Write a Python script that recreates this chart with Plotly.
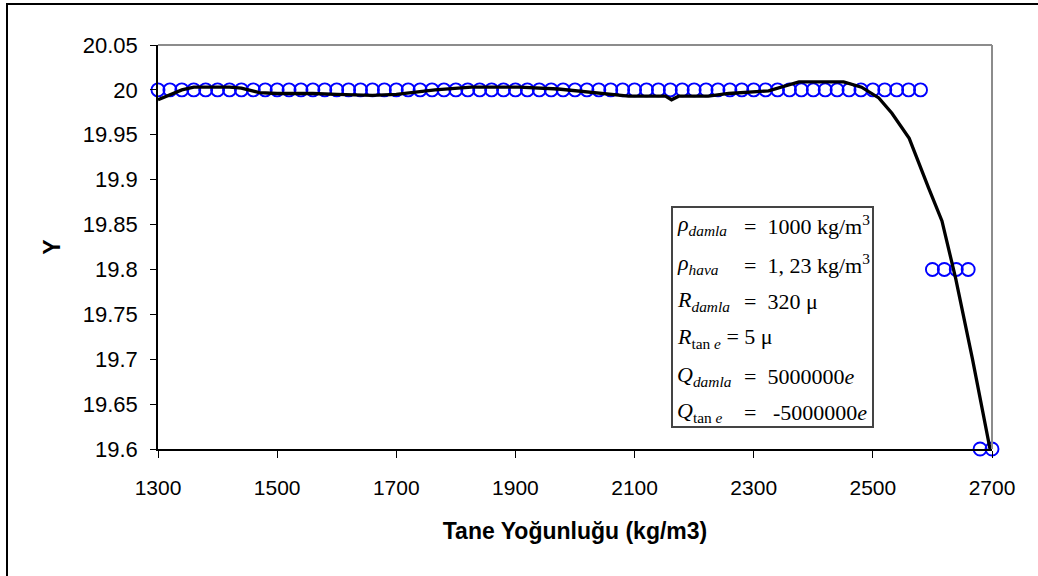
import plotly.graph_objects as go

# Scatter data (circles)
circ_x = [1300 + 20 * i for i in range(65)] + [2600, 2620, 2640, 2660, 2680, 2700]
circ_y = [20.0] * 65 + [19.8, 19.8, 19.8, 19.8, 19.6, 19.6]

# Black curve
line_x = [1300, 1320, 1340, 1360, 1420, 1440, 1470, 1500, 1560, 1600, 1660, 1700, 1740, 1765, 1826,
          1906, 1972, 2034, 2090, 2152, 2162, 2174, 2224, 2258, 2325, 2376, 2451, 2481, 2510,
          2532, 2561, 2594, 2616, 2639, 2667, 2697]
line_y = [19.989, 19.995, 20.000, 20.003, 20.003, 20.002, 19.997, 19.996, 19.996, 19.995, 19.994, 19.995, 19.998,
          20.000, 20.003, 20.003, 20.001, 19.997, 19.993, 19.993, 19.989, 19.993, 19.993, 19.996, 19.999,
          20.009, 20.009, 20.003, 19.991, 19.974, 19.946, 19.890, 19.854, 19.790, 19.701, 19.599]

x_ticks = [1300, 1500, 1700, 1900, 2100, 2300, 2500, 2700]
y_ticks = [19.6, 19.65, 19.7, 19.75, 19.8, 19.85, 19.9, 19.95, 20.0, 20.05]
y_tick_text = ["19.6", "19.65", "19.7", "19.75", "19.8", "19.85", "19.9", "19.95", "20", "20.05"]

# info box: (left part, right part)
info_lines = [
    ("<i>ρ<sub>damla</sub></i>", "=\u00a0\u00a01000 kg/m<sup>3</sup>"),
    ("<i>ρ<sub>hava</sub></i>", "=\u00a0\u00a01,\u00a023 kg/m<sup>3</sup>"),
    ("<i>R<sub>damla</sub></i>", "=\u00a0\u00a0320 μ"),
    ("<i>R</i><sub>tan\u00a0<i>e</i></sub>\u00a0=\u00a05 μ", None),
    ("<i>Q<sub>damla</sub></i>", "=\u00a0\u00a05000000<i>e</i>"),
    ("<i>Q</i><sub>tan\u00a0<i>e</i></sub>", "=\u00a0\u00a0\u00a0-5000000<i>e</i>"),
]

W, H = 1038, 576
L, R, T, B = 158, 992, 45, 449

def px2paper_x(px):
    return (px - L) / (R - L)

def px2paper_y(py):
    return (B - py) / (B - T)

fig = go.Figure()
fig.add_trace(go.Scatter(
    x=circ_x, y=circ_y, mode="markers", cliponaxis=False,
    marker=dict(symbol="circle-open", size=13, color="#0000FF", line=dict(width=1.9, color="#0000FF")),
    showlegend=False, hoverinfo="skip"))
fig.add_trace(go.Scatter(
    x=line_x, y=line_y, mode="lines", cliponaxis=False,
    line=dict(color="black", width=3.3), showlegend=False, hoverinfo="skip"))

shapes = [
    # outer frame
    dict(type="rect", xref="paper", yref="paper",
         x0=px2paper_x(7), x1=px2paper_x(1060), y0=px2paper_y(600), y1=px2paper_y(4),
         line=dict(color="black", width=2), fillcolor="rgba(0,0,0,0)", layer="below"),
    # plot area grey border top & right
    dict(type="line", xref="paper", yref="paper", x0=0, x1=1, y0=1, y1=1,
         line=dict(color="#8c8c8c", width=2)),
    dict(type="line", xref="paper", yref="paper", x0=1, x1=1, y0=0, y1=1,
         line=dict(color="#8c8c8c", width=2)),
    # info box
    dict(type="rect", xref="paper", yref="paper",
         x0=px2paper_x(672), x1=px2paper_x(873), y0=px2paper_y(427), y1=px2paper_y(207),
         line=dict(color="#444444", width=2), fillcolor="white", layer="above"),
]

annotations = []
line_centers = [225, 264, 301, 338, 376, 412]
serif = dict(family="Liberation Serif, Times New Roman, serif", size=22, color="black")
for (left, right), cy in zip(info_lines, line_centers):
    annotations.append(dict(
        xref="paper", yref="paper", x=px2paper_x(675), y=px2paper_y(cy),
        xanchor="left", yanchor="middle", text=left, showarrow=False, font=serif))
    if right is not None:
        annotations.append(dict(
            xref="paper", yref="paper", x=px2paper_x(742), y=px2paper_y(cy),
            xanchor="left", yanchor="middle", text=right, showarrow=False, font=serif))

fig.update_layout(
    width=W, height=H,
    margin=dict(l=L, r=W - R, t=T, b=H - B, pad=0),
    paper_bgcolor="white", plot_bgcolor="white",
    shapes=shapes, annotations=annotations,
    xaxis=dict(range=[1300, 2700], tickvals=x_ticks, ticks="outside", ticklen=7, tickwidth=1,
               tickcolor="black", showline=True, linecolor="black", linewidth=1.5,
               showgrid=False, zeroline=False, ticklabelstandoff=12,
               tickfont=dict(family="Liberation Sans, Arial", size=21, color="black"),
               title=dict(text="<b>Tane Yoğunluğu (kg/m3)</b>", standoff=25,
                          font=dict(family="Liberation Sans, Arial", size=23, color="black"))),
    yaxis=dict(range=[19.6, 20.05], tickvals=y_ticks, ticktext=y_tick_text, ticks="outside",
               ticklen=6, tickwidth=1, tickcolor="black", showline=True, linecolor="black",
               linewidth=1.5, showgrid=False, zeroline=False, ticklabelstandoff=8,
               tickfont=dict(family="Liberation Sans, Arial", size=22, color="black"),
               title=dict(text="<b>Y</b>", standoff=16,
                          font=dict(family="Liberation Sans, Arial", size=23, color="black"))),
)

fig.write_html("out.html")
